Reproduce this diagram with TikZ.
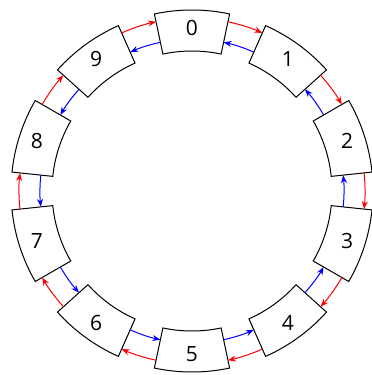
\documentclass[tikz,border=0pt]{standalone}
\usepackage{fontspec}
\setmainfont{Open Sans}
\usetikzlibrary{arrows.meta}
\begin{document}
\begin{tikzpicture}[x=1pt,y=1pt,
  sector/.style={draw=black, line width=1pt, fill=white},
  lbl/.style={font=\fontsize{21}{25}\selectfont, inner sep=0pt},
  redarr/.style={draw=red, line width=1pt, -{Stealth[length=8pt,width=6pt]}},
  bluearr/.style={draw=blue, line width=1pt, -{Stealth[length=8pt,width=6pt]}}]
\useasboundingbox (-192,-184) rectangle (180,191);
\foreach \k in {0,...,9}{
  \pgfmathsetmacro\a{90-36*\k}
  \draw[sector] (\a-12:140) arc[start angle=\a-12, end angle=\a+12, radius=140]
     -- (\a+12:181) arc[start angle=\a+12, end angle=\a-12, radius=181] -- cycle;
  \node[lbl] (n\k) at (\a:163) {\k};
  \coordinate (n\k-ro) at (\a-12:173);
  \coordinate (n\k-li) at (\a+12:152);
}
\foreach \k in {0,...,9}{
  \pgfmathsetmacro\a{90-36*\k}
  \pgfmathtruncatemacro\j{mod(\k+1,10)}
  \draw[redarr] (n\k-ro) arc[start angle=\a-12, end angle=\a-24, radius=173];
  \draw[bluearr] (n\j-li) arc[start angle=\a-24, end angle=\a-12, radius=152];
}
\end{tikzpicture}
\end{document}
